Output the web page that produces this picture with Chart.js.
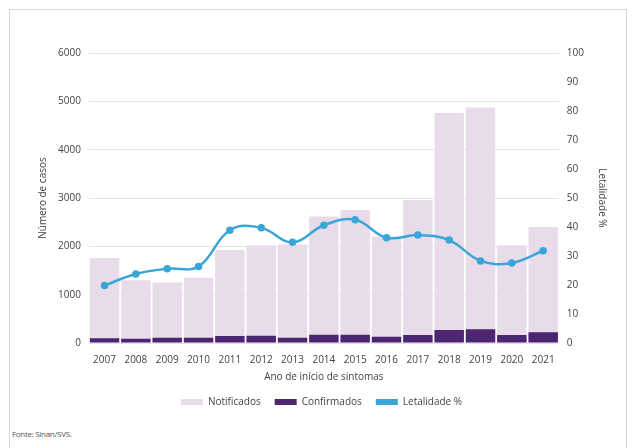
<!DOCTYPE html>
<html>
<head>
<meta charset="utf-8">
<script src="https://cdn.jsdelivr.net/npm/chart.js@4"></script>
<style>
  html, body { margin: 0; padding: 0; background: #fff; }
  body { width: 637px; height: 448px; position: relative; overflow: hidden; font-family: 'Open Sans', sans-serif; }
  #frame { position: absolute; left: 9px; top: 9px; width: 618px; height: 460px; border: 1px solid #d6d6d6; box-sizing: border-box; }
  #wrap { position: absolute; left: 33px; top: 39px; width: 577px; height: 378px; }
  #source { position: absolute; left: 12px; top: 428px; font-size: 8px; color: #555; letter-spacing: -0.3px; }
</style>
</head>
<body>
<div id="frame"></div>
<div id="wrap"><canvas id="chart"></canvas></div>
<div id="source">Fonte: Sinan/SVS.</div>
<script>
/* Casos notificados, confirmados e letalidade por ano */
const years       = ['2007','2008','2009','2010','2011','2012','2013','2014','2015','2016','2017','2018','2019','2020','2021'];
const notificados = [1760, 1300, 1250, 1350, 1925, 2015, 2040, 2615, 2750, 2200, 2960, 4760, 4870, 2020, 2400];
const confirmados = [100, 90, 110, 110, 145, 150, 110, 170, 170, 130, 165, 270, 285, 165, 220];
const letalidade  = [19.8, 23.8, 25.6, 26.4, 38.9, 39.7, 34.7, 40.6, 42.5, 36.3, 37.2, 35.5, 28.3, 27.6, 31.8];

const TEXT = '#444';
const FONT = { family: "'Open Sans', sans-serif", size: 10 };

new Chart(document.getElementById('chart'), {
  type: 'bar',
  data: {
    labels: years,
    datasets: [
      {
        label: 'Notificados',
        data: notificados,
        backgroundColor: '#e8dcea',
        yAxisID: 'y',
        order: 3,
        categoryPercentage: 1,
        barPercentage: 0.94,
      },
      {
        label: 'Confirmados',
        data: confirmados,
        backgroundColor: '#4d2572',
        yAxisID: 'y',
        order: 2,
        categoryPercentage: 1,
        barPercentage: 0.94,
      },
      {
        type: 'line',
        label: 'Letalidade %',
        data: letalidade,
        borderColor: '#3aa6d8',
        backgroundColor: '#3aa6d8',
        borderWidth: 2.5,
        pointRadius: 2.5,
        pointBackgroundColor: '#3aa6d8',
        tension: 0.4,
        yAxisID: 'y1',
        order: 1,
      },
    ],
  },
  options: {
    responsive: true,
    maintainAspectRatio: false,
    animation: false,
    layout: { padding: 0 },
    plugins: {
      legend: {
        position: 'bottom',
        labels: {
          color: TEXT,
          font: FONT,
          boxWidth: 22,
          boxHeight: 6,
          padding: 14,
          sort: (a, b) => a.datasetIndex - b.datasetIndex,
          generateLabels(chart) {
            const items = Chart.defaults.plugins.legend.labels.generateLabels(chart);
            items.forEach((it) => { it.lineWidth = 0; it.strokeStyle = it.fillStyle; });
            return items;
          },
        },
      },
      tooltip: { enabled: false },
    },
    scales: {
      x: {
        stacked: true,
        grid: { display: false },
        border: { display: false },
        ticks: { color: TEXT, font: FONT, maxRotation: 0 },
        title: { display: true, text: 'Ano de início de sintomas', color: TEXT, font: FONT, padding: { top: 2, bottom: 0 } },
      },
      y: {
        position: 'left',
        min: 0,
        max: 6000,
        ticks: { stepSize: 1000, color: TEXT, font: FONT, padding: 8, callback: (v) => String(v) },
        grid: { color: '#e4e4e4', drawTicks: false },
        border: { display: false },
        title: { display: true, text: 'Número de casos', color: TEXT, font: FONT, padding: { bottom: 1 } },
      },
      y1: {
        position: 'right',
        min: 0,
        max: 100,
        ticks: { stepSize: 10, color: TEXT, font: FONT, padding: 8 },
        grid: { display: false, drawTicks: false },
        border: { display: false },
        title: { display: true, text: 'Letalidade %', color: TEXT, font: FONT, padding: { top: 2 } },
      },
    },
  },
});
</script>
</body>
</html>
